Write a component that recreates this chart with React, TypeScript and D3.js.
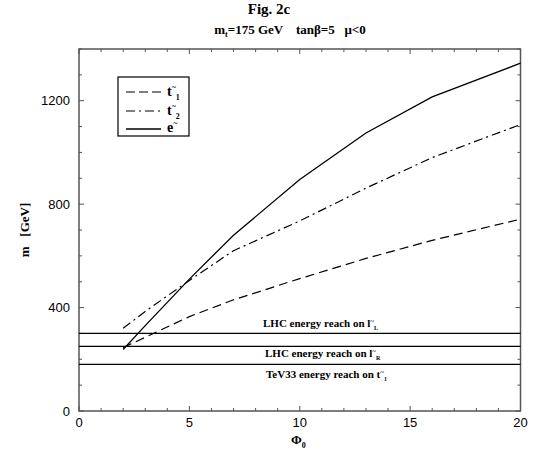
import React from "react";
import * as d3 from "d3";

const phi = [2, 3, 5, 7, 10, 13, 16, 20];
const t1 = [245, 285, 365, 430, 512, 590, 660, 742];
const t2 = [320, 385, 505, 620, 735, 862, 980, 1108];
const eSel = [238, 330, 510, 680, 895, 1075, 1215, 1345];
const reachValues = [300, 250, 180];
const xTicks = [0, 5, 10, 15, 20];
const yTicks = [0, 400, 800, 1200];

const W = 538, H = 455;
const L = 79, R = 520.5, T = 49, B = 411;

export default function App() {
  const x = d3.scaleLinear().domain([0, 20]).range([L, R]);
  const y = d3.scaleLinear().domain([0, 1400]).range([B, T]);
  const line = d3.line<[number, number]>().x(d => x(d[0])).y(d => y(d[1]));
  const mk = (vals: number[]) => line(phi.map((p, i) => [p, vals[i]] as [number, number])) || "";
  const axisColor = "#555";
  const xMinor = d3.range(0, 21, 1);
  const yMinor = d3.range(0, 1401, 100);
  const serif = "'Liberation Serif', 'Times New Roman', serif";
  const sans = "'Liberation Sans', Arial, sans-serif";
  const reachY = reachValues.map(v => y(v));
  return (
    <svg width={W} height={H} style={{ position: "absolute", left: 0, top: 0 }}>
      <rect width={W} height={H} fill="white" />
      <text x={269} y={14} textAnchor="middle" fontFamily={serif} fontWeight="bold" fontSize={15}>Fig. 2c</text>
      <text x={290} y={34} textAnchor="middle" fontFamily={serif} fontWeight="bold" fontSize={13} xmlSpace="preserve">
        m<tspan fontSize={8} dy={3}>t</tspan><tspan dy={-3}>=175 GeV    tanβ=5   μ&lt;0</tspan>
      </text>
      {/* frame */}
      <rect x={L} y={T} width={R - L} height={B - T} fill="none" stroke={axisColor} strokeWidth={1.5} />
      {xMinor.map(v => {
        const len = v % 5 === 0 ? 5 : 3;
        return (
          <g key={"xt" + v} stroke={axisColor} strokeWidth={1}>
            <line x1={x(v)} x2={x(v)} y1={B} y2={B - len} />
            <line x1={x(v)} x2={x(v)} y1={T} y2={T + len} />
          </g>
        );
      })}
      {yMinor.map(v => {
        const len = v % 400 === 0 ? 5 : 3;
        return (
          <g key={"yt" + v} stroke={axisColor} strokeWidth={1}>
            <line x1={L} x2={L + len} y1={y(v)} y2={y(v)} />
            <line x1={R} x2={R - len} y1={y(v)} y2={y(v)} />
          </g>
        );
      })}
      {xTicks.map(v => (
        <text key={"xl" + v} x={x(v)} y={B + 16} textAnchor="middle" fontFamily={sans} fontSize={13}>{v}</text>
      ))}
      {yTicks.map(v => (
        <text key={"yl" + v} x={L - 9} y={y(v) + 4.5} textAnchor="end" fontFamily={sans} fontSize={13}>{v}</text>
      ))}
      {/* axis titles */}
      <text x={291} y={444} fontFamily={serif} fontWeight="bold" fontSize={13}>
        Φ<tspan fontSize={8} dy={4}>0</tspan>
      </text>
      <text transform="translate(29,230) rotate(-90)" textAnchor="middle" fontFamily={serif} fontWeight="bold" fontSize={13} xmlSpace="preserve">
        m   [GeV]
      </text>
      {/* reach lines */}
      {reachY.map((yy, i) => (
        <line key={"r" + i} x1={L} x2={R} y1={yy} y2={yy} stroke="black" strokeWidth={1.2} />
      ))}
      <text x={263} y={reachY[0] - 6} fontFamily={serif} fontWeight="bold" fontSize={11}>
        LHC energy reach on l<tspan fontSize={7} dy={-4}>~</tspan><tspan fontSize={6} dy={7}>L</tspan>
      </text>
      <text x={265} y={reachY[1] + 11} fontFamily={serif} fontWeight="bold" fontSize={11}>
        LHC energy reach on l<tspan fontSize={7} dy={-4}>~</tspan><tspan fontSize={6} dy={7}>R</tspan>
      </text>
      <text x={266} y={reachY[2] + 14} fontFamily={serif} fontWeight="bold" fontSize={11}>
        TeV33 energy reach on t<tspan fontSize={7} dy={-4}>~</tspan><tspan fontSize={6} dy={7}>1</tspan>
      </text>
      {/* curves */}
      <path d={mk(t1)} fill="none" stroke="black" strokeWidth={1.2} strokeDasharray="9,5" />
      <path d={mk(t2)} fill="none" stroke="black" strokeWidth={1.2} strokeDasharray="9,4,2,4" />
      <path d={mk(eSel)} fill="none" stroke="black" strokeWidth={1.3} />
      {/* legend */}
      <rect x={118} y={77} width={71} height={59} fill="white" stroke="black" strokeWidth={1.2} />
      <line x1={126} x2={161} y1={92} y2={92} stroke="black" strokeWidth={1.2} strokeDasharray="9,4" />
      <line x1={126} x2={161} y1={111} y2={111} stroke="black" strokeWidth={1.2} strokeDasharray="9,4,2,4" />
      <line x1={126} x2={161} y1={129} y2={129} stroke="black" strokeWidth={1.3} />
      <text x={167} y={96} fontFamily={serif} fontWeight="bold" fontSize={14}>
        t<tspan fontSize={8} dy={-6}>~</tspan><tspan fontSize={8} dy={10}>1</tspan>
      </text>
      <text x={167} y={115} fontFamily={serif} fontWeight="bold" fontSize={14}>
        t<tspan fontSize={8} dy={-6}>~</tspan><tspan fontSize={8} dy={10}>2</tspan>
      </text>
      <text x={167} y={132} fontFamily={serif} fontWeight="bold" fontSize={14}>
        e<tspan fontSize={8} dy={-6}>~</tspan>
      </text>
    </svg>
  );
}
